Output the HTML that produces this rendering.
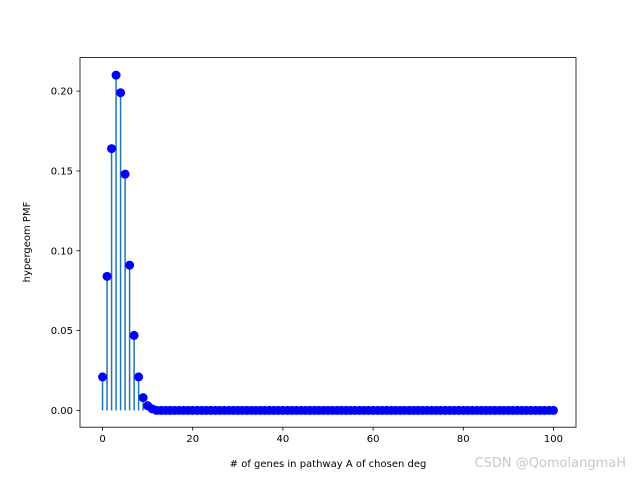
<!DOCTYPE html>
<html><head><meta charset="utf-8"><style>
body{margin:0;background:#fff;}
svg text{font-family:"DejaVu Sans","Liberation Sans",sans-serif;font-size:10px;fill:#000;}
</style></head><body>
<svg id="chart" width="640" height="480" xmlns="http://www.w3.org/2000/svg">
<rect width="640" height="480" fill="#fff"/>
<g id="marks"></g>
<g id="axes"></g>
<text x="328" y="467" text-anchor="middle">&#35; of genes in pathway A of chosen deg</text>
<text transform="translate(30,242) rotate(-90)" text-anchor="middle">hypergeom PMF</text>
<text x="626" y="467" text-anchor="end" style="fill:#c8c8c8;font-size:13px">CSDN @QomolangmaH</text>
</svg>
<script>
const headValues=[0.021,0.084,0.164,0.210,0.199,0.148,0.091,0.047,0.021,0.008,0.003,0.001];
const xTicks=[0,20,40,60,80,100];
const yTicks=[0,0.05,0.10,0.15,0.20];
const yTickLabels=["0.00","0.05","0.10","0.15","0.20"];
const N=101;
const L=80,R=576,T=57.6,B=427.2;
const xmin=-5,xmax=105,ymin=-0.0105,ymax=0.221;
const sx=v=>L+(v-xmin)/(xmax-xmin)*(R-L);
const sy=v=>B-(v-ymin)/(ymax-ymin)*(B-T);
const NS="http://www.w3.org/2000/svg";
const mk=(t,a,p)=>{const e=document.createElementNS(NS,t);for(const k in a)e.setAttribute(k,a[k]);p.appendChild(e);return e;};
const marks=document.getElementById('marks'),axes=document.getElementById('axes');
const vals=[];for(let k=0;k<N;k++)vals.push(k<headValues.length?headValues[k]:0);
vals.forEach((v,k)=>{
 const l=mk('line',{x1:sx(k),x2:sx(k),y1:sy(0),y2:sy(v),stroke:'#1f77b4','stroke-width':1.5},marks);
 
 
});
vals.forEach((v,k)=>{
 const c=mk('circle',{cx:sx(k),cy:sy(v),r:4.5,fill:'#0000ff'},marks);
 
 
});
const f=mk('rect',{x:L,y:T,width:R-L,height:B-T,fill:'none',stroke:'#000','stroke-width':0.8},axes);


xTicks.forEach(t=>{
 mk('line',{x1:sx(t),x2:sx(t),y1:B,y2:B+3.5,stroke:'#000','stroke-width':0.8},axes);
 const tx=mk('text',{x:sx(t),y:B+15,'text-anchor':'middle'},axes);tx.textContent=t;
 
 
});
yTicks.forEach((t,i)=>{
 mk('line',{x1:L-3.5,x2:L,y1:sy(t),y2:sy(t),stroke:'#000','stroke-width':0.8},axes);
 const tx=mk('text',{x:L-7,y:sy(t)+3.5,'text-anchor':'end'},axes);tx.textContent=yTickLabels[i];
 
 
});
</script>
</body></html>
